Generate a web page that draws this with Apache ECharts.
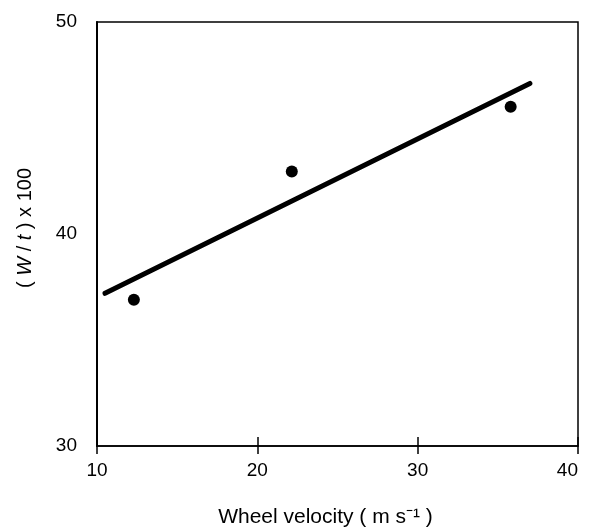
<!DOCTYPE html>
<html>
<head>
<meta charset="utf-8">
<script src="https://cdn.jsdelivr.net/npm/echarts@6/dist/echarts.min.js"></script>
<style>html,body{margin:0;padding:0;background:#fff;}#c{width:595px;height:527px;}</style>
</head>
<body>
<div id="c"></div>
<script>
var pointX = [12.3, 22.15, 35.8];
var pointY = [36.9, 42.95, 46.0];
var fitLineX = [10.5, 37.0];
var fitLineY = [37.2, 47.1];
var xTicks = [10, 20, 30, 40];
var yTicks = [30, 40, 50];

var chart = echarts.init(document.getElementById('c'));
var font = 'Liberation Sans, Arial, sans-serif';
var points = pointX.map(function (x, i) { return [x, pointY[i]]; });
var fit = fitLineX.map(function (x, i) { return [x, fitLineY[i]]; });

chart.setOption({
  animation: false,
  backgroundColor: '#fff',
  grid: { left: 97, right: 17, top: 22, bottom: 81, containLabel: false, outerBoundsMode: 'none',
          show: true, borderColor: '#000', borderWidth: 1.5 },
  xAxis: [{
    type: 'value', min: 10, max: 40, interval: 10,
    axisLine: { show: true, lineStyle: { color: '#000', width: 1.5 } },
    axisTick: { show: true, inside: true, length: 9, lineStyle: { color: '#000', width: 1.5 } },
    splitLine: { show: false },
    axisLabel: { color: '#000', fontSize: 19, fontFamily: font, margin: 15, alignMaxLabel: 'right' },
    name: 'Wheel velocity ( m s\u207B\u00B9 )',
    nameLocation: 'middle', nameGap: 61,
    nameTextStyle: { color: '#000', fontSize: 21, fontFamily: font, padding: [0, 24, 0, 0] }
  }, {
    type: 'value', min: 10, max: 40, interval: 10, position: 'bottom',
    axisLine: { show: false },
    axisTick: { show: true, inside: false, length: 8, lineStyle: { color: '#000', width: 1.5 } },
    axisLabel: { show: false }, splitLine: { show: false }
  }],
  yAxis: {
    type: 'value', min: 30, max: 50, interval: 10,
    axisLine: { show: true, lineStyle: { color: '#000', width: 2 } },
    axisTick: { show: false },
    splitLine: { show: false },
    axisLabel: { color: '#000', fontSize: 19, fontFamily: font, margin: 20 },
    name: '( {i|W} / {i|t} ) x 100',
    nameLocation: 'middle', nameGap: 62, nameRotate: 90,
    nameTextStyle: {
      color: '#000', fontSize: 20, fontFamily: font, padding: [0, 0, 0, 12],
      rich: { i: { fontStyle: 'italic', fontSize: 20, fontFamily: font, color: '#000' } }
    }
  },
  series: [{
    type: 'line', data: fit, symbol: 'none',
    lineStyle: { color: '#000', width: 5, cap: 'round' }, z: 3
  }, {
    type: 'scatter', data: points, symbol: 'circle', symbolSize: 12,
    itemStyle: { color: '#000', opacity: 1 }, z: 4
  }]
});
</script>
</body>
</html>
